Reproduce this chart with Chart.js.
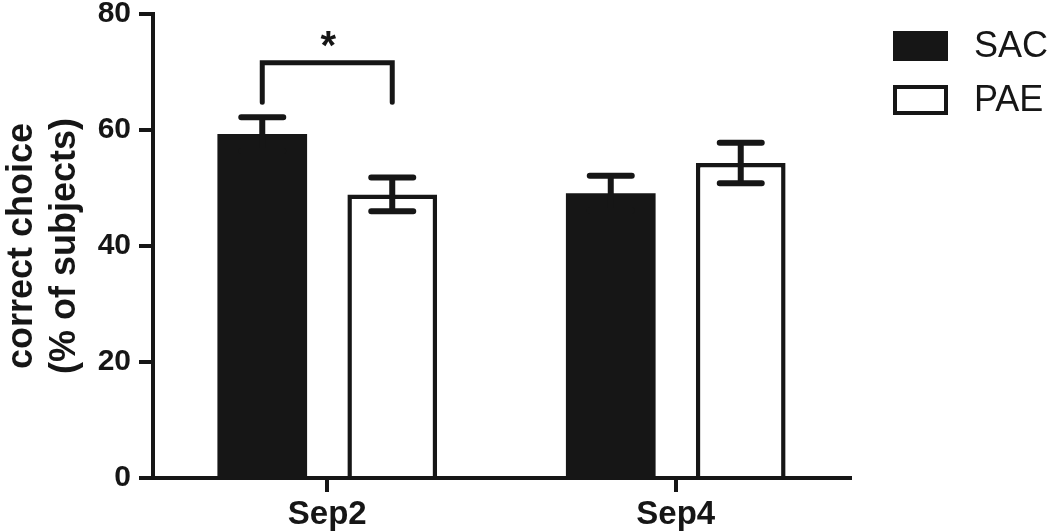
<!DOCTYPE html>
<html>
<head>
<meta charset="utf-8">
<script src="https://cdn.jsdelivr.net/npm/chart.js@4.4.0/dist/chart.umd.min.js"></script>
<style>
html, body { margin: 0; padding: 0; background: #fff; }
</style>
</head>
<body>
<canvas id="myChart" width="1050" height="532"></canvas>
<script>
// data block
const categories = ['Sep2', 'Sep4'];
const sacMeans = [59.3, 49.1];
const sacErrors = [2.9, 3.0];
const paeMeans = [48.9, 54.3];
const paeErrors = [2.9, 3.5];
const yTicks = [0, 20, 40, 60, 80];
// significance bracket: SAC vs PAE at Sep2
const sigCategory = 0;
const sigLevel = 71.6;
const sigLegEnd = 64.8;
const sigLabel = '*';

const ink = '#161616';
const font = '"Liberation Sans", Arial, sans-serif';

// error bars drawn through the y scale
const errorBars = {
    id: 'errorBars',
    afterDatasetsDraw(chart) {
        const ctx = chart.ctx;
        const y = chart.scales.y;
        chart.data.datasets.forEach((ds, di) => {
            chart.getDatasetMeta(di).data.forEach((bar, i) => {
                const top = y.getPixelForValue(ds.data[i] + ds.errors[i]);
                const bot = y.getPixelForValue(ds.data[i] - ds.errors[i]);
                const half = 21;
                ctx.save();
                ctx.strokeStyle = ink;
                ctx.lineWidth = 6;
                ctx.lineCap = 'round';
                ctx.beginPath();
                ctx.moveTo(bar.x, top); ctx.lineTo(bar.x, bot);
                ctx.moveTo(bar.x - half, top); ctx.lineTo(bar.x + half, top);
                ctx.moveTo(bar.x - half, bot); ctx.lineTo(bar.x + half, bot);
                ctx.stroke();
                ctx.restore();
            });
        });
    }
};

// "*" bracket
const sigBracket = {
    id: 'sigBracket',
    afterDatasetsDraw(chart) {
        const ctx = chart.ctx;
        const y = chart.scales.y;
        const x1 = chart.getDatasetMeta(0).data[sigCategory].x;
        const x2 = chart.getDatasetMeta(1).data[sigCategory].x;
        const yTop = y.getPixelForValue(sigLevel);
        const yLeg = y.getPixelForValue(sigLegEnd);
        ctx.save();
        ctx.strokeStyle = ink;
        ctx.lineWidth = 5;
        ctx.lineCap = 'round';
        ctx.beginPath();
        ctx.moveTo(x1, yLeg); ctx.lineTo(x1, yTop); ctx.lineTo(x2, yTop); ctx.lineTo(x2, yLeg);
        ctx.stroke();
        ctx.fillStyle = ink;
        ctx.font = 'bold 40px ' + font;
        ctx.textAlign = 'center';
        ctx.textBaseline = 'alphabetic';
        ctx.fillText(sigLabel, (x1 + x2) / 2 + 1, yTop - 4);
        ctx.restore();
    }
};

// legend on the right
const sideLegend = {
    id: 'sideLegend',
    afterDraw(chart) {
        const ctx = chart.ctx;
        ctx.save();
        chart.data.datasets.forEach((ds, i) => {
            const bx = 893, by = 31 + i * 54, bw = 55, bh = 30;
            ctx.fillStyle = ds.backgroundColor;
            ctx.fillRect(bx, by, bw, bh);
            ctx.strokeStyle = ds.borderColor;
            ctx.lineWidth = 4;
            ctx.strokeRect(bx + 2, by + 2, bw - 4, bh - 4);
            ctx.fillStyle = ink;
            ctx.font = '36px ' + font;
            ctx.textAlign = 'left';
            ctx.textBaseline = 'middle';
            ctx.fillText(ds.label, 974, by + bh / 2 + 1);
        });
        ctx.restore();
    }
};

const data = {
    labels: categories,
    datasets: [{
        label: 'SAC',
        data: sacMeans,
        errors: sacErrors,
        backgroundColor: ink,
        borderColor: ink,
        borderWidth: 0
    }, {
        label: 'PAE',
        data: paeMeans,
        errors: paeErrors,
        backgroundColor: '#ffffff',
        borderColor: ink,
        borderWidth: 4.5
    }]
};

const config = {
    type: 'bar',
    data: data,
    options: {
        responsive: false,
        animation: false,
        categoryPercentage: 0.746,
        barPercentage: 0.69,
        layout: {
            padding: { left: 0, right: 200, top: 14, bottom: 0 }
        },
        plugins: {
            legend: { display: false },
            tooltip: { enabled: false }
        },
        scales: {
            x: {
                grid: {
                    drawOnChartArea: false,
                    offset: false,
                    tickLength: 14,
                    lineWidth: 4,
                    color: ink
                },
                border: { display: true, width: 4, color: ink },
                ticks: {
                    color: ink,
                    padding: 3,
                    font: { family: font, size: 33, weight: 'bold' }
                },
                afterFit(scale) { scale.height = 54; }
            },
            y: {
                min: 0,
                max: 80,
                afterBuildTicks(scale) {
                    scale.ticks = yTicks.map(v => ({ value: v }));
                },
                grid: {
                    drawOnChartArea: false,
                    tickLength: 14,
                    lineWidth: 4,
                    color: ink
                },
                border: { display: true, width: 4, color: ink },
                ticks: {
                    color: ink,
                    padding: 8,
                    font: { family: font, size: 30, weight: 'bold' }
                },
                title: {
                    display: true,
                    text: ['correct choice', '(% of subjects)'],
                    color: ink,
                    padding: { top: 0, bottom: 0 },
                    font: { family: font, size: 36, weight: 'bold', lineHeight: 1.2 }
                },
                afterFit(scale) {
                    scale.width = 153;
                    scale.paddingTop = 0;
                    scale.paddingBottom = 0;
                }
            }
        }
    },
    plugins: [errorBars, sigBracket, sideLegend]
};

const ctx = document.getElementById('myChart');
const myChart = new Chart(ctx, config);
</script>
</body>
</html>
